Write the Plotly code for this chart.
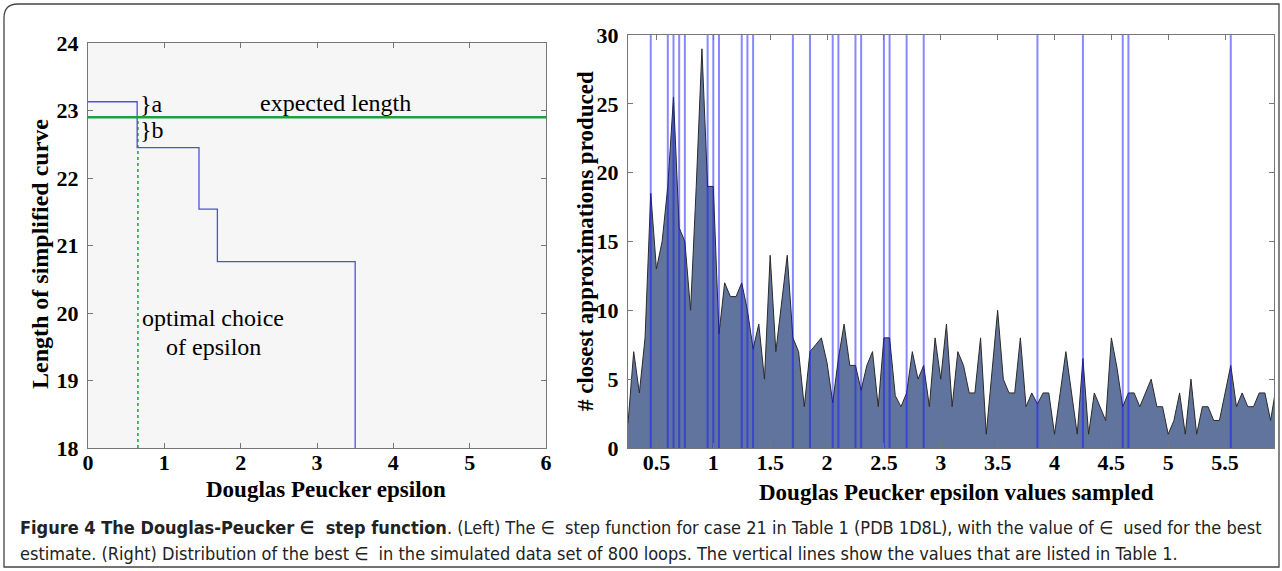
import plotly.graph_objects as go

# ---------------- data ----------------
# Left panel: epsilon step function
left_eps = [0.0, 0.644, 1.454, 1.695, 3.50]
left_len = [23.13, 22.45, 21.54, 20.76, 18.0]
expected_length = 22.9
optimal_eps = 0.654

# Right panel: distribution of best epsilon (sampled every 0.05)
sample_eps = [0.25, 0.30, 0.35, 0.40, 0.45, 0.50, 0.55, 0.60, 0.65, 0.70,
              0.75, 0.80, 0.85, 0.90, 0.95, 1.00, 1.05, 1.10, 1.15, 1.20,
              1.25, 1.30, 1.35, 1.40, 1.45, 1.50, 1.55, 1.60, 1.65, 1.70,
              1.75, 1.80, 1.85, 1.90, 1.95, 2.00, 2.05, 2.10, 2.15, 2.20,
              2.25, 2.30, 2.35, 2.40, 2.45, 2.50, 2.55, 2.60, 2.65, 2.70,
              2.75, 2.80, 2.85, 2.90, 2.95, 3.00, 3.05, 3.10, 3.15, 3.20,
              3.25, 3.30, 3.35, 3.40, 3.45, 3.50, 3.55, 3.60, 3.65, 3.70,
              3.75, 3.80, 3.85, 3.90, 3.95, 4.00, 4.05, 4.10, 4.15, 4.20,
              4.25, 4.30, 4.35, 4.40, 4.45, 4.50, 4.55, 4.60, 4.65, 4.70,
              4.75, 4.80, 4.85, 4.90, 4.95, 5.00, 5.05, 5.10, 5.15, 5.20,
              5.25, 5.30, 5.35, 5.40, 5.45, 5.50, 5.55, 5.60, 5.65, 5.70,
              5.75, 5.80, 5.85, 5.90, 5.95]
counts = [1.8, 7, 4, 8, 18.5, 13, 15, 19, 25.5, 16,
          15, 10, 19, 29, 19, 19, 8.3, 12, 11, 11,
          12, 10, 7.2, 9, 5, 14, 7, 10.5, 14, 8,
          7, 3, 7, 7.5, 8, 6.2, 3.3, 6.5, 9, 6,
          6, 4.2, 6, 7, 3, 8, 8, 3.8, 3, 4,
          7, 5, 6, 3, 8, 5, 9, 3, 7, 6,
          4, 4, 8, 1, 5.5, 10, 5, 4, 4, 8,
          3, 4, 3.2, 4, 4, 1, 4, 7, 4, 1,
          6.5, 1, 4, 3, 2, 8, 5.8, 3, 4, 4,
          3, 4, 5, 3, 3, 1, 2, 4, 1, 5,
          1, 3, 3, 2, 2, 4, 6, 3, 4, 3,
          3, 4, 4, 2, 4.5]
# Values listed in Table 1 (vertical lines)
table_eps = [0.45, 0.60, 0.65, 0.70, 0.75, 0.95, 1.00, 1.05, 1.25, 1.30,
             1.35, 1.70, 1.85, 2.05, 2.10, 2.25, 2.30, 2.50, 2.55, 2.70,
             2.85, 3.85, 4.25, 4.60, 4.65, 5.55]

left_xticks = [0, 1, 2, 3, 4, 5, 6]
left_yticks = [18, 19, 20, 21, 22, 23, 24]
right_xticks = [0.5, 1, 1.5, 2, 2.5, 3, 3.5, 4, 4.5, 5, 5.5]
right_yticks = [0, 5, 10, 15, 20, 25, 30]

# ---------------- layout geometry ----------------
W, H = 1282, 571
def px(x):
    return x / W
def py(y):
    return 1 - y / H

SERIF = "Liberation Serif, Times New Roman, serif"
tickfont = dict(family=SERIF, size=22, color="black", weight="bold")

fig = go.Figure()

# Left panel traces
fig.add_trace(go.Scatter(
    x=[optimal_eps, optimal_eps], y=[18, expected_length],
    mode="lines", line=dict(color="rgb(30,160,60)", width=1.5, dash="dot"),
    xaxis="x", yaxis="y", showlegend=False, hoverinfo="skip"))
fig.add_trace(go.Scatter(
    x=left_eps, y=left_len, mode="lines", line_shape="hv",
    line=dict(color="rgb(80,80,215)", width=1.3),
    xaxis="x", yaxis="y", showlegend=False))
fig.add_trace(go.Scatter(
    x=[0, 6], y=[expected_length, expected_length], mode="lines",
    line=dict(color="rgb(30,160,60)", width=2.6),
    xaxis="x", yaxis="y", showlegend=False))

# Right panel traces
fig.add_trace(go.Scatter(
    x=sample_eps, y=counts, mode="lines", fill="tozeroy",
    fillcolor="rgb(96,116,158)", line=dict(color="#2a2a2a", width=1),
    xaxis="x2", yaxis="y2", showlegend=False))
vx, vy = [], []
for v in table_eps:
    vx += [v, v, None]
    vy += [0, 30, None]
fig.add_trace(go.Scatter(
    x=vx, y=vy, mode="lines", line=dict(color="rgba(20,20,255,0.5)", width=2),
    xaxis="x2", yaxis="y2", showlegend=False, hoverinfo="skip"))

axis_common = dict(ticks="inside", ticklen=5, tickcolor="#777", mirror="ticks",
                   showline=True, linecolor="#777", linewidth=1, showgrid=False,
                   zeroline=False, tickfont=tickfont, automargin=False)

fig.update_layout(
    width=W, height=H,
    margin=dict(l=0, r=0, t=0, b=0, autoexpand=False),
    paper_bgcolor="white", plot_bgcolor="white",
    xaxis=dict(domain=[px(88), px(546)], range=[0, 6], tickvals=left_xticks,
               anchor="y", ticklabelstandoff=-5, **axis_common),
    yaxis=dict(domain=[py(448), py(43)], range=[18, 24], tickvals=left_yticks,
               anchor="x", ticklabelstandoff=4, **axis_common),
    xaxis2=dict(domain=[px(628), px(1274)], range=[0.25, 5.93], tickvals=right_xticks,
                anchor="y2", ticklabelstandoff=-5, **axis_common),
    yaxis2=dict(domain=[py(448), py(35)], range=[0, 30], tickvals=right_yticks,
                anchor="x2", ticklabelstandoff=4, **axis_common),
)

# Axis titles
def title(text, x, y, size, angle=0):
    fig.add_annotation(x=px(x), y=py(y), xref="paper", yref="paper", text=f"<b>{text}</b>",
                       showarrow=False, textangle=angle, xanchor="center", yanchor="middle",
                       font=dict(family=SERIF, size=size, color="black"))

title("Douglas Peucker epsilon", 326, 489, 23)
title("Length of simplified curve", 40, 254, 24, -90)
title("Douglas Peucker epsilon values sampled", 956, 492, 23)
title("# closest approximations produced", 585, 241, 23, -90)

# Light-gray background for left panel
fig.add_shape(type="rect", xref="x domain", yref="y domain", x0=0, x1=1, y0=0, y1=1,
              fillcolor="#f6f6f6", line=dict(width=0), layer="below")

# Left panel annotations
ann_font = dict(family=SERIF, size=24, color="black")
fig.add_annotation(x=3.24, y=23.11, xref="x", yref="y", text="expected length",
                   showarrow=False, font=ann_font)
fig.add_annotation(x=0.66, y=23.09, xref="x", yref="y", text="}a", xanchor="left",
                   showarrow=False, font=ann_font)
fig.add_annotation(x=0.66, y=22.71, xref="x", yref="y", text="}b", xanchor="left",
                   showarrow=False, font=ann_font)
fig.add_annotation(x=1.64, y=19.93, xref="x", yref="y", text="optimal choice",
                   showarrow=False, font=ann_font)
fig.add_annotation(x=1.64, y=19.5, xref="x", yref="y", text="of epsilon",
                   showarrow=False, font=ann_font)

# Caption
CAP = "DejaVu Sans Condensed, Open Sans, sans-serif"
fig.add_annotation(
    x=px(18), y=py(527), xref="paper", yref="paper", xanchor="left", yanchor="middle",
    showarrow=False, align="left", font=dict(family=CAP, size=18, color="#222"),
    text=("<b>Figure 4 The Douglas-Peucker ∈  step function</b>. (Left) The ∈  step function for case 21 "
          "in Table 1 (PDB 1D8L), with the value of ∈  used for the best"))
fig.add_annotation(
    x=px(18), y=py(553), xref="paper", yref="paper", xanchor="left", yanchor="middle",
    showarrow=False, align="left", font=dict(family=CAP, size=18, color="#222"),
    text=("estimate. (Right) Distribution of the best ∈  in the simulated data set of 800 loops. "
          "The vertical lines show the values that are listed in Table 1."))

# Rounded outer frame
x0, x1, y0, y1 = 4, 1279, 4, 567
r = 14
def P(x, y):
    return f"{px(x):.5f},{py(y):.5f}"
path = (f"M {P(x0 + r, y0)} L {P(x1, y0)} L {P(x1, y1)} L {P(x0, y1)} "
        f"L {P(x0, y0 + r)} Q {P(x0, y0)} {P(x0 + r, y0)} Z")
fig.add_shape(type="path", path=path, xref="paper", yref="paper",
              line=dict(color="#444", width=1.3))

fig.write_html("out.html", config={"displayModeBar": False},
               post_script="document.body.style.margin='0';document.body.style.overflow='hidden';")
